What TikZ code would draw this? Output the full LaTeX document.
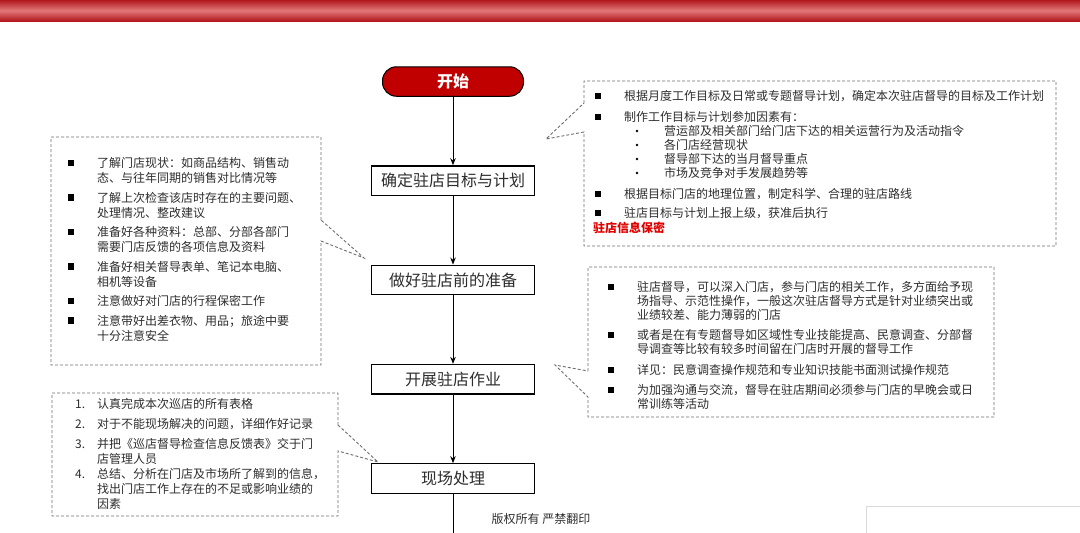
\documentclass[tikz,border=0pt]{standalone}
\usepackage{fontspec}
\setmainfont{Noto Sans CJK SC}
\usetikzlibrary{arrows.meta,positioning,calc}
\definecolor{cBarDark}{RGB}{176,24,30}
\definecolor{cBarLight}{RGB}{226,120,120}
\definecolor{cStart}{RGB}{192,0,0}
\definecolor{cRedText}{RGB}{224,0,0}
\definecolor{cDash}{RGB}{110,110,110}
\definecolor{cText}{RGB}{45,45,45}
\tikzset{
    flowbox/.style={rectangle, draw=black, line width=1.3pt, fill=white,
        minimum width=163pt, minimum height=29.5pt, text=cText,
        font=\fontsize{16}{18}\selectfont},
    startbox/.style={rectangle, rounded corners=14pt, draw=black, line width=1pt,
        fill=cStart, minimum width=141pt, minimum height=29.5pt, text=white,
        font=\fontsize{16}{18}\selectfont\bfseries},
    arr/.style={-{Stealth[length=7pt,width=5.5pt]}, line width=1pt},
    callout/.style={draw=cDash, line width=0.9pt, dash pattern=on 3pt off 2pt},
    sq/.style={rectangle, fill=black, minimum size=6.5pt, inner sep=0pt},
    subdot/.style={circle, fill=black, minimum size=2.6pt, inner sep=0pt},
    txt/.style={anchor=base west, inner sep=0pt, text width=420pt, align=left,
        text=cText, font=\fontsize{12}{15}\selectfont},
    txtb/.style={txt, font=\fontsize{12}{14}\selectfont},
}

\begin{document}
\begin{tikzpicture}[x=1pt, y=-1pt]
\useasboundingbox (0,0) rectangle (1080,533);

% ================================================================
%  TOP BAR
% ================================================================
\shade[top color=cBarDark, bottom color=cBarDark, middle color=cBarLight]
    (0,0) rectangle (1080,21);

% ================================================================
%  MAIN FLOW (centre column)
% ================================================================
\node[startbox] (start) at (453,81.5) {开始};
\node[flowbox, below=68.5pt of start] (plan) {确定驻店目标与计划};
\node[flowbox, below=68.5pt of plan]  (prep) {做好驻店前的准备};
\node[flowbox, below=68.5pt of prep]  (work) {开展驻店作业};
\node[flowbox, below=68.5pt of work]  (site) {现场处理};
\coordinate (down) at (site.south |- 0,540);

\draw[arr] (start.south) -- (plan.north);
\draw[arr] (plan.south) -- (prep.north);
\draw[arr] (prep.south) -- (work.north);
\draw[arr] (work.south) -- (site.north);
\draw[line width=1pt] (site.south) -- (down);

\node[text=cText, font=\fontsize{12}{14}\selectfont] (copy) at (541,519) {版权所有 严禁翻印};

% ================================================================
%  CALLOUT 1 — targets and plan (top right)
% ================================================================
\coordinate (tipA) at (546,139);
\draw[callout] (584,103) -- (584,81) -- (1056,81) -- (1056,246) -- (584,246)
    -- (584,132) -- (tipA) -- cycle;

\node[sq] (a1b) at (598,96) {};
\node[txt] (a1) at (624,100.5) {根据月度工作目标及日常或专题督导计划，确定本次驻店督导的目标及工作计划};
\node[sq] (a2b) at (598,117) {};
\node[txt] (a2) at (624,121.5) {制作工作目标与计划参加因素有：};
\node[subdot] (s1) at (637,131) {};
\node[subdot] (s2) at (637,145) {};
\node[subdot] (s3) at (637,159) {};
\node[subdot] (s4) at (637,173) {};
\node[txtb] (a2s) at (664,135.5) {营运部及相关部门给门店下达的相关运营行为及活动指令\\
    各门店经营现状\\督导部下达的当月督导重点\\市场及竞争对手发展趋势等};
\node[sq] (a3b) at (598,194) {};
\node[txt] (a3) at (624,198.5) {根据目标门店的地理位置，制定科学、合理的驻店路线};
\node[sq] (a4b) at (598,213) {};
\node[txt] (a4) at (624,217.5) {驻店目标与计划上报上级，获准后执行};
\node[txt, text=cRedText, font=\fontsize{12}{15}\selectfont\bfseries] (secret)
    at (593,232.5) {驻店信息保密};

% ================================================================
%  CALLOUT 2 — preparation (left)
% ================================================================
\coordinate (tipB) at (364,258);
\draw[callout] (321,220) -- (321,137) -- (51,137) -- (51,365) -- (321,365)
    -- (321,241) -- (tipB) -- cycle;

\node[sq] (b1b) at (71,163) {};
\node[txt] (b1) at (97,167.5) {了解门店现状：如商品结构、销售动\\态、与往年同期的销售对比情况等};
\node[sq] (b2b) at (71,197.5) {};
\node[txt] (b2) at (97,202) {了解上次检查该店时存在的主要问题、\\处理情况、整改建议};
\node[sq] (b3b) at (71,232) {};
\node[txt] (b3) at (97,236.5) {准备好各种资料：总部、分部各部门\\需要门店反馈的各项信息及资料};
\node[sq] (b4b) at (71,266.5) {};
\node[txt] (b4) at (97,271) {准备好相关督导表单、笔记本电脑、\\相机等设备};
\node[sq] (b5b) at (71,301) {};
\node[txt] (b5) at (97,305.5) {注意做好对门店的行程保密工作};
\node[sq] (b6b) at (71,320.5) {};
\node[txt] (b6) at (97,325) {注意带好出差衣物、用品；旅途中要\\十分注意安全};

% ================================================================
%  CALLOUT 3 — in-store work (right)
% ================================================================
\coordinate (tipC) at (555,365);
\draw[callout] (588,371) -- (588,267) -- (994,267) -- (994,417) -- (588,417)
    -- (588,397) -- (tipC) -- cycle;

\node[sq] (c1b) at (611,287) {};
\node[txtb] (c1) at (637,291.5) {驻店督导，可以深入门店，参与门店的相关工作，多方面给予现\\
    场指导、示范性操作，一般这次驻店督导方式是针对业绩突出或\\业绩较差、能力薄弱的门店};
\node[sq] (c2b) at (611,335) {};
\node[txtb] (c2) at (637,339.5) {或者是在有专题督导如区域性专业技能提高、民意调查、分部督\\
    导调查等比较有较多时间留在门店时开展的督导工作};
\node[sq] (c3b) at (611,370) {};
\node[txtb] (c3) at (637,374.5) {详见：民意调查操作规范和专业知识技能书面测试操作规范};
\node[sq] (c4b) at (611,390) {};
\node[txtb] (c4) at (637,394.5) {为加强沟通与交流，督导在驻店期间必须参与门店的早晚会或日\\常训练等活动};

% ================================================================
%  CALLOUT 4 — on-site handling (bottom left)
% ================================================================
\coordinate (tipD) at (378,462);
\draw[callout] (338,425) -- (338,393) -- (52,393) -- (52,516) -- (338,516)
    -- (338,451) -- (tipD) -- cycle;

\node[txt] (d1n) at (75,408.5) {1.};
\node[txt] (d1) at (97,408.5) {认真完成本次巡店的所有表格};
\node[txt] (d2n) at (75,428.5) {2.};
\node[txt] (d2) at (97,428.5) {对于不能现场解决的问题，详细作好记录};
\node[txt] (d3n) at (75,448.5) {3.};
\node[txt] (d3) at (97,448.5) {并把《巡店督导检查信息反馈表》交于门\\店管理人员};
\node[txt] (d4n) at (75,478.5) {4.};
\node[txt] (d4) at (97,478.5) {总结、分析在门店及市场所了解到的信息，\\找出门店工作上存在的不足或影响业绩的\\因素};

% leftover panel edge (bottom right)
\draw[black!15] (866,506) rectangle (1090,545);

\end{tikzpicture}
\end{document}
